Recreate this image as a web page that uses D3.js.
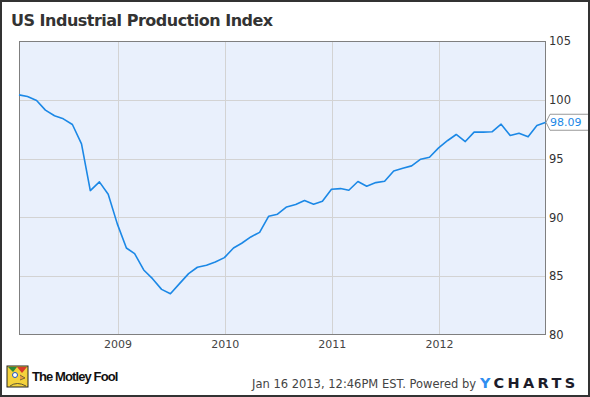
<!DOCTYPE html>
<html>
<head>
<meta charset="utf-8">
<script src="https://cdn.jsdelivr.net/npm/d3@7"></script>
<style>
  body { margin: 0; background: #fff; }
  svg { display: block; font-family: "DejaVu Sans", sans-serif; }
</style>
</head>
<body>
<script>
// monthly readings, Jan 2008 .. Dec 2012 (dated at month end)
var months = [
  "2008-01","2008-02","2008-03","2008-04","2008-05","2008-06","2008-07","2008-08","2008-09","2008-10","2008-11","2008-12",
  "2009-01","2009-02","2009-03","2009-04","2009-05","2009-06","2009-07","2009-08","2009-09","2009-10","2009-11","2009-12",
  "2010-01","2010-02","2010-03","2010-04","2010-05","2010-06","2010-07","2010-08","2010-09","2010-10","2010-11","2010-12",
  "2011-01","2011-02","2011-03","2011-04","2011-05","2011-06","2011-07","2011-08","2011-09","2011-10","2011-11","2011-12",
  "2012-01","2012-02","2012-03","2012-04","2012-05","2012-06","2012-07","2012-08","2012-09","2012-10","2012-11","2012-12"
];
var values = [
  100.42,100.28,99.94,99.12,98.64,98.38,97.90,96.25,92.28,93.02,91.97,89.45,
  87.40,86.92,85.53,84.79,83.88,83.51,84.37,85.22,85.76,85.93,86.21,86.58,
  87.40,87.80,88.34,88.73,90.10,90.27,90.89,91.09,91.43,91.12,91.37,92.39,
  92.45,92.31,93.05,92.65,92.96,93.07,93.95,94.18,94.38,94.95,95.12,95.91,
  96.54,97.05,96.45,97.25,97.25,97.28,97.93,96.96,97.16,96.85,97.81,98.09
];
var yTicks = [80, 85, 90, 95, 100, 105];
var xTickYears = ["2009", "2010", "2011", "2012"];
var lastLabel = "98.09";

var W = 590, H = 397;
var plotL = 19, plotR = 546, plotT = 41, plotB = 335;

var parseMonth = d3.timeParse("%Y-%m");
var data = months.map(function(m, i) {
  // month end
  var d = d3.timeDay.offset(d3.timeMonth.offset(parseMonth(m), 1), -1);
  return { date: d, value: values[i] };
});

var x = d3.scaleTime()
  .domain(d3.extent(data, function(d) { return d.date; }))
  .range([plotL, plotR]);
var y = d3.scaleLinear().domain([80, 105]).range([plotB, plotT]);

var svg = d3.select("body").append("svg")
  .attr("width", W).attr("height", H);

svg.append("rect").attr("width", W).attr("height", H).attr("fill", "#fff");

// title
svg.append("text")
  .attr("x", 11).attr("y", 26)
  .attr("font-size", 16).attr("font-weight", "bold")
  .attr("letter-spacing", -0.5)
  .attr("fill", "#333")
  .text("US Industrial Production Index");

// plot background
svg.append("rect")
  .attr("x", plotL).attr("y", plotT)
  .attr("width", plotR - plotL).attr("height", plotB - plotT)
  .attr("fill", "#e9f0fc");

// grid
var yearDates = xTickYears.map(function(s) { return d3.timeParse("%Y")(s); });
svg.append("g").selectAll("line").data(yearDates).enter().append("line")
  .attr("x1", function(d) { return Math.round(x(d)) + 0.5; })
  .attr("x2", function(d) { return Math.round(x(d)) + 0.5; })
  .attr("y1", plotT).attr("y2", plotB)
  .attr("stroke", "#d3d3d3").attr("stroke-width", 1);
svg.append("g").selectAll("line").data(yTicks.slice(1, -1)).enter().append("line")
  .attr("x1", plotL).attr("x2", plotR)
  .attr("y1", function(d) { return Math.round(y(d)) + 0.5; })
  .attr("y2", function(d) { return Math.round(y(d)) + 0.5; })
  .attr("stroke", "#d3d3d3").attr("stroke-width", 1);

// plot frame
svg.append("rect")
  .attr("x", plotL + 0.5).attr("y", plotT + 0.5)
  .attr("width", plotR - plotL - 1).attr("height", plotB - plotT - 1)
  .attr("fill", "none").attr("stroke", "#7f7f7f").attr("stroke-width", 1);

// right axis
var yAxis = d3.axisRight(y).tickValues(yTicks).tickSize(0).tickPadding(3);
var ya = svg.append("g").attr("transform", "translate(" + plotR + ",0)").call(yAxis);
ya.select(".domain").remove();
ya.selectAll("text").attr("font-family", "DejaVu Sans").attr("font-size", 11.5).attr("fill", "#333");

// bottom axis
var xAxis = d3.axisBottom(x).tickValues(yearDates).tickSize(0).tickPadding(5)
  .tickFormat(d3.timeFormat("%Y"));
var xa = svg.append("g").attr("transform", "translate(0," + plotB + ")").call(xAxis);
xa.select(".domain").remove();
xa.selectAll("text").attr("font-family", "DejaVu Sans").attr("font-size", 11).attr("fill", "#444");

// line
var line = d3.line()
  .x(function(d) { return x(d.date); })
  .y(function(d) { return y(d.value); });
svg.append("path").datum(data)
  .attr("d", line)
  .attr("fill", "none")
  .attr("stroke", "#1b88e6")
  .attr("stroke-width", 1.6)
  .attr("stroke-linejoin", "round");

// last value callout
var last = data[data.length - 1];
var lx = x(last.date), ly = y(last.value);
svg.append("path")
  .attr("d", "M" + lx + "," + ly + "L" + (lx + 4) + "," + (ly - 8) + "L" + (W - 0.5) + "," + (ly - 8)
    + "L" + (W - 0.5) + "," + (ly + 8) + "L" + (lx + 4) + "," + (ly + 8) + "Z")
  .attr("fill", "#fff").attr("stroke", "#999").attr("stroke-width", 1);
svg.append("text")
  .attr("x", lx + 4).attr("y", ly + 4)
  .attr("font-size", 11).attr("fill", "#1b88e6")
  .text(lastLabel);

// footer: motley fool logo
var logo = svg.append("g").attr("transform", "translate(7,366)");
logo.append("rect").attr("width", 21).attr("height", 21).attr("fill", "#f4d23c").attr("stroke", "#222");
logo.append("path").attr("d", "M1,1 L10,1 L6,6 Z").attr("fill", "#2a8a3a");
logo.append("path").attr("d", "M10,1 L20,1 L15,7 Z").attr("fill", "#d83a2a");
logo.append("circle").attr("cx", 8).attr("cy", 9).attr("r", 2.5).attr("fill", "#fff").attr("stroke", "#2255bb");
logo.append("path").attr("d", "M13,9 L18,12 L13,14").attr("fill", "#e8a040").attr("stroke", "#333").attr("stroke-width", 0.6);
logo.append("path").attr("d", "M3,20 Q10,15 19,20").attr("fill", "none").attr("stroke", "#333").attr("stroke-width", 0.8);
svg.append("text")
  .attr("x", 32).attr("y", 381)
  .attr("font-family", "Liberation Sans, Arial, sans-serif")
  .attr("font-size", 13).attr("font-weight", "bold")
  .attr("letter-spacing", -0.9)
  .attr("fill", "#111")
  .text("The Motley Fool");

// footer: timestamp and ycharts
svg.append("text")
  .attr("x", 252).attr("y", 388)
  .attr("font-size", 11.5).attr("fill", "#444")
  .text("Jan 16 2013, 12:46PM EST. Powered by");
var yc = svg.append("text")
  .attr("x", 480).attr("y", 387.5)
  .attr("font-family", "DejaVu Sans")
  .attr("font-size", 14.5).attr("font-weight", "bold")
  .attr("letter-spacing", 3.4);
yc.append("tspan").attr("fill", "#2f8ef0").text("Y");
yc.append("tspan").attr("fill", "#1c1c2a").text("CHARTS");

// outer frame
svg.append("rect")
  .attr("x", 1).attr("y", 1).attr("width", W - 2).attr("height", H - 2)
  .attr("fill", "none").attr("stroke", "#333").attr("stroke-width", 2);
</script>
</body>
</html>
